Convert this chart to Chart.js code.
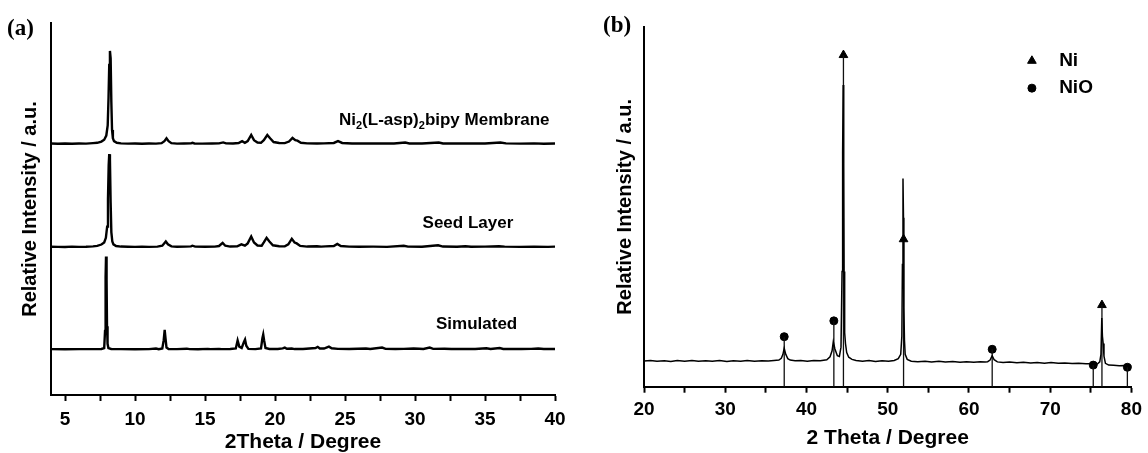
<!DOCTYPE html>
<html>
<head>
<meta charset="utf-8">
<script src="https://cdn.jsdelivr.net/npm/chart.js@4.4.1/dist/chart.umd.min.js"></script>
<style>
  html, body { margin: 0; padding: 0; background: #fff; }
  #wrap { position: relative; width: 1148px; height: 453px; overflow: hidden; }
  canvas { position: absolute; top: 0; }
  #chartA { left: 0; }
  #chartB { left: 580px; }
</style>
</head>
<body>
<div id="wrap">
  <canvas id="chartA" width="580" height="453"></canvas>
  <canvas id="chartB" width="568" height="453"></canvas>
</div>
<script>
// ---------- panel (a): [2theta, relative intensity %] ----------
const membrane = [
  [4.0,0.4],[4.5,0.2],[5.0,0.5],[5.5,0.1],[6.0,0.4],[6.5,0.3],[7.0,0.8],[7.3,1.2],[7.6,2.5],[7.8,4.5],
  [7.95,9],[8.05,20],[8.11,50],[8.16,85],[8.21,100],[8.26,92],[8.31,45],[8.36,15],[8.42,6],[8.5,3],
  [8.7,1.2],[9.0,0.6],[9.5,0.3],[10.0,0.5],[10.5,0.2],[11.0,0.4],[11.5,0.3],[11.9,0.8],[12.1,3],[12.25,6],
  [12.4,3],[12.6,0.8],[13.0,0.3],[13.5,0.5],[14.0,0.6],[14.1,1.2],[14.25,0.5],[14.8,0.3],[15.5,0.4],[16.0,0.6],
  [16.3,1.6],[16.5,0.6],[17.0,0.5],[17.4,1],[17.65,3],[17.85,1.2],[18.05,3],[18.3,9.6],[18.5,4],[18.75,1.5],
  [19.0,1.2],[19.2,4],[19.45,9.6],[19.65,6],[19.9,2],[20.3,1],[20.7,0.8],[21.0,2.5],[21.25,6.4],[21.45,4],
  [21.6,3.5],[21.85,1.2],[22.3,0.6],[23.0,0.5],[23.5,0.6],[24.2,1],[24.5,3],[24.8,1],[25.5,0.5],[26.5,0.4],
  [27.5,0.6],[28.5,0.4],[29.3,1.5],[29.6,0.5],[30.5,0.4],[31.7,1.5],[32.0,0.5],[33.0,0.4],[34.0,0.5],[35.0,0.4],
  [36.1,1.5],[36.5,0.6],[37.5,0.3],[38.5,0.6],[39.2,0.2],[40.0,0.5]
];
const seed = [
  [4.0,0.4],[4.5,0.3],[5.0,0.2],[5.5,0.5],[6.0,0.3],[6.5,0.4],[7.0,0.8],[7.3,1.3],[7.6,2.8],[7.8,5],
  [7.92,10],[8.01,22],[8.07,52],[8.12,88],[8.16,100],[8.21,94],[8.26,48],[8.31,16],[8.38,6],[8.46,3],
  [8.65,1.2],[9.0,0.6],[9.5,0.4],[10.0,0.3],[10.5,0.5],[11.0,0.3],[11.6,0.5],[11.95,1.5],[12.2,6],[12.35,3],
  [12.6,0.8],[13.0,0.4],[13.6,0.5],[14.0,0.8],[14.1,1.5],[14.3,0.5],[15.0,0.4],[15.7,0.5],[16.0,1.2],[16.26,4.6],
  [16.45,1.5],[16.8,0.6],[17.3,0.8],[17.6,3],[17.85,1.5],[18.05,4],[18.3,11.5],[18.5,5],[18.75,1.8],[19.05,1.5],
  [19.2,5],[19.4,10],[19.6,6],[19.85,2],[20.3,1],[20.7,0.8],[20.95,3],[21.2,9],[21.4,5],[21.55,4],
  [21.8,1.3],[22.3,0.6],[23.0,1],[23.3,0.5],[23.6,0.8],[24.2,1.2],[24.45,3.5],[24.7,1.2],[25.3,0.5],[26.0,0.4],
  [27.0,0.5],[28.0,0.3],[29.2,1.5],[29.5,0.5],[30.5,0.4],[31.65,2],[32.0,0.6],[33.0,0.4],[33.6,1],[34.0,0.4],
  [35.0,0.5],[36.0,1],[36.4,0.5],[37.5,0.3],[38.5,0.5],[39.5,0.3],[40.0,0.5]
];
const simulated = [
  [4.0,0.3],[5.0,0.2],[6.0,0.3],[7.0,0.3],[7.6,0.5],[7.8,1.5],[7.86,20],[7.9,78],[7.93,100],[7.97,75],
  [8.0,25],[8.04,6],[8.1,1.5],[8.3,0.5],[9.0,0.3],[10.0,0.2],[11.0,0.3],[11.5,1],[11.7,0.3],[11.95,1],
  [12.05,10],[12.12,21],[12.18,12],[12.25,2],[12.4,0.5],[13.0,0.3],[13.7,0.8],[13.9,0.3],[14.5,0.2],[15.2,0.6],
  [15.4,0.3],[16.0,0.6],[16.2,0.3],[16.8,0.4],[17.2,1],[17.33,9.6],[17.45,3],[17.62,1.5],[17.78,8],[17.86,10.6],
  [17.95,4],[18.1,0.6],[18.6,0.3],[19.0,1],[19.1,12],[19.16,16],[19.22,10],[19.32,1.5],[19.6,0.5],[20.2,0.4],
  [20.55,1.2],[20.7,2],[20.85,0.8],[21.2,1],[21.4,0.4],[22.0,0.4],[22.9,1.5],[23.05,2.8],[23.2,1],[23.5,1],
  [23.85,3],[24.05,1.2],[24.5,0.6],[25.3,0.4],[26.5,1],[26.8,0.5],[27.65,2],[27.9,0.6],[28.6,0.4],[29.2,0.6],
  [29.9,1],[30.3,0.8],[30.6,0.5],[31.05,2],[31.3,0.6],[32.1,0.8],[32.6,0.4],[33.5,0.5],[34.3,0.4],[35.1,1.2],
  [35.4,0.5],[36.05,1.5],[36.3,0.5],[37.0,0.6],[37.6,0.4],[38.3,0.6],[38.8,1],[39.2,0.4],[40.0,0.4]
];
// vertical stacking offsets of the three patterns
const offsetMembrane = 270;
const offsetSeed = 159;
const offsetSimulated = 49;

const ticksA = [5, 7.5, 10, 12.5, 15, 17.5, 20, 22.5, 25, 27.5, 30, 32.5, 35, 37.5, 40];
const majorA = [5, 10, 15, 20, 25, 30, 35, 40];

// labels of the patterns, placed in data coordinates
const seriesNames = ['Membrane', 'Seed Layer', 'Simulated'];
const labelX = [24.57, 30.54, 31.5];
const labelY = [295.7, 185, 76.3];

// ---------- panel (b) ----------
const pattern = [
  [20.0,7.15],[20.8,7.3],[21.6,7.05],[22.5,7.2],[23.3,7.0],[24.1,7.25],[25.0,7.1],[25.9,7.3],[26.7,7.05],[27.6,7.2],
  [28.4,7.1],[29.3,7.3],[30.2,7.0],[31.0,7.2],[31.9,7.1],[32.7,7.3],[33.6,7.05],[34.5,7.2],[35.3,7.15],[36.0,7.3],
  [36.6,7.4],[36.9,7.9],[37.1,9],[37.26,10.7],[37.45,9],[37.7,7.8],[38.0,7.4],[38.6,7.2],[39.3,7.3],[40.1,7.1],
  [40.9,7.3],[41.7,7.2],[42.5,7.5],[42.9,8.3],[43.15,10],[43.3,12.5],[43.5,10.5],[43.8,8.6],[44.05,8.4],[44.25,11],
  [44.38,32],[44.45,65],[44.52,83.9],[44.58,62],[44.63,32],[44.7,15],[44.8,12],[44.95,9.5],[45.2,8.2],[45.6,7.6],
  [46.1,7.3],[46.9,7.1],[47.7,7.25],[48.5,7.0],[49.3,7.2],[50.1,7.05],[50.8,7.3],[51.3,7.8],[51.6,9],[51.74,14],
  [51.81,34],[51.88,57.9],[51.94,47],[51.99,22],[52.06,13],[52.15,9],[52.4,7.6],[52.9,7.1],[53.7,6.95],[54.6,7.1],
  [55.4,6.9],[56.3,7.05],[57.1,6.85],[58.0,7.0],[58.9,6.8],[59.7,6.95],[60.6,6.8],[61.4,6.95],[62.0,6.9],[62.3,6.95],
  [62.6,7.4],[62.86,8.6],[63.1,7.5],[63.5,6.9],[64.2,6.75],[65.0,6.85],[65.9,6.65],[66.7,6.8],[67.6,6.6],[68.4,6.75],
  [69.3,6.55],[70.1,6.7],[71.0,6.5],[71.8,6.6],[72.7,6.45],[73.5,6.55],[74.4,6.35],[75.2,6.4],[75.8,6.3],[76.1,6.9],
  [76.25,9],[76.35,19.1],[76.43,14],[76.52,12],[76.62,8.5],[76.8,6.5],[77.2,6.0],[77.8,5.95],[78.5,5.8],[79.2,5.9],
  [80.0,5.75]
];
// reference positions (marker heights in the same units)
const niTheta = [44.55, 51.95, 76.37];
const niHeight = [92.2, 41.0, 22.7];
const nioTheta = [37.26, 43.37, 62.86, 75.3, 79.5];
const nioHeight = [13.9, 18.3, 10.4, 6.0, 5.4];

const ticksB = [20, 25, 30, 35, 40, 45, 50, 55, 60, 65, 70, 75, 80];
const majorB = [20, 30, 40, 50, 60, 70, 80];

const legendNames = ['Ni', 'NiO'];
const legendX = 67.75;
const legendTextX = 71.1;
const legendY = [90.6, 83.0];

// ---------- common ----------
Chart.defaults.font.family = '"Liberation Sans", Arial, sans-serif';
Chart.defaults.color = '#000';

const toPoints = (arr, off) => arr.map(([x, y]) => ({ x: x, y: y + off }));

function sticks(xs, hs) {
  const out = [];
  xs.forEach((x, i) => {
    out.push({ x: x, y: 0 }, { x: x, y: hs[i] }, { x: x, y: null });
  });
  return out;
}

function xAxis(min, max, tickList, majors, height, pad, title) {
  return {
    type: 'linear',
    min: min,
    max: max,
    afterBuildTicks: s => { s.ticks = tickList.map(v => ({ value: v })); },
    afterFit: s => { s.height = height; },
    ticks: {
      autoSkip: false,
      maxRotation: 0,
      padding: pad,
      font: { size: 19, weight: 'bold' },
      callback: v => (majors.includes(v) ? String(v) : '')
    },
    grid: { drawOnChartArea: false, drawTicks: true, tickLength: 6, tickColor: '#000', tickWidth: 2 },
    border: { display: true, color: '#000', width: 2 },
    title: { display: true, text: title, font: { size: 21, weight: 'bold', lineHeight: 1 }, padding: 0 }
  };
}

function yAxis(max, width, titlePad) {
  return {
    min: 0,
    max: max,
    afterFit: s => { s.width = width; },
    ticks: { display: false },
    grid: { display: false },
    border: { display: true, color: '#000', width: 2 },
    title: {
      display: true,
      text: 'Relative Intensity / a.u.',
      font: { size: 20, weight: 'bold', lineHeight: 1 },
      padding: { top: titlePad, bottom: 0 }
    }
  };
}

function panelLetter(text, x, y) {
  return {
    id: 'letter' + text,
    afterDraw(chart) {
      const ctx = chart.ctx;
      ctx.save();
      ctx.font = 'bold 23px "Liberation Serif", "Times New Roman", serif';
      ctx.fillStyle = '#000';
      ctx.textBaseline = 'middle';
      ctx.fillText(text, x, y);
      ctx.restore();
    }
  };
}

// text labels of panel (a), with subscripts for the membrane formula
const labelPlugin = {
  id: 'seriesLabels',
  afterDatasetsDraw(chart) {
    const { ctx, scales } = chart;
    const parts = [
      [['Ni', 0], ['2', 1], ['(L-asp)', 0], ['2', 1], ['bipy Membrane', 0]],
      [[seriesNames[1], 0]],
      [[seriesNames[2], 0]]
    ];
    ctx.save();
    ctx.fillStyle = '#000';
    ctx.textBaseline = 'middle';
    parts.forEach((segs, i) => {
      let x = scales.x.getPixelForValue(labelX[i]);
      const y = scales.y.getPixelForValue(labelY[i]);
      segs.forEach(([t, sub]) => {
        ctx.font = sub ? 'bold 11px "Liberation Sans", Arial' : 'bold 17px "Liberation Sans", Arial';
        ctx.fillText(t, x, sub ? y + 6 : y);
        x += ctx.measureText(t).width;
      });
    });
    ctx.restore();
  }
};

const legendPlugin = {
  id: 'markerLegend',
  afterDraw(chart) {
    const { ctx, scales } = chart;
    const styles = ['triangle', 'circle'];
    const sizes = [5, 4];
    ctx.save();
    ctx.fillStyle = '#000';
    ctx.strokeStyle = '#000';
    ctx.textBaseline = 'middle';
    ctx.font = 'bold 19px "Liberation Sans", Arial';
    legendNames.forEach((name, i) => {
      const px = scales.x.getPixelForValue(legendX);
      const py = scales.y.getPixelForValue(legendY[i]);
      Chart.helpers.drawPoint(ctx, { pointStyle: styles[i], radius: sizes[i], rotation: 0, borderWidth: 1 }, px, py);
      ctx.fillText(name, scales.x.getPixelForValue(legendTextX), py);
    });
    ctx.restore();
  }
};

// ---------- chart (a) ----------
const lineStyle = { borderColor: '#000', borderWidth: 2.4, pointRadius: 0, tension: 0, fill: false };

new Chart(document.getElementById('chartA').getContext('2d'), {
  type: 'line',
  data: {
    datasets: [
      Object.assign({ label: 'Ni2(L-asp)2bipy Membrane', data: toPoints(membrane, offsetMembrane) }, lineStyle),
      Object.assign({ label: 'Seed Layer', data: toPoints(seed, offsetSeed) }, lineStyle),
      Object.assign({ label: 'Simulated', data: toPoints(simulated, offsetSimulated) }, lineStyle)
    ]
  },
  options: {
    responsive: false,
    animation: false,
    devicePixelRatio: 1,
    layout: { padding: { left: 0, right: 25, top: 23, bottom: 0 } },
    plugins: { legend: { display: false }, tooltip: { enabled: false } },
    scales: {
      x: xAxis(4, 40, ticksA, majorA, 58, 7, '2Theta / Degree'),
      y: yAxis(400, 51, 20)
    }
  },
  plugins: [labelPlugin, panelLetter('(a)', 7, 29)]
});

// ---------- chart (b) ----------
new Chart(document.getElementById('chartB').getContext('2d'), {
  type: 'line',
  data: {
    datasets: [
      { label: 'pattern', data: toPoints(pattern, 0), borderColor: '#000', borderWidth: 1.5, pointRadius: 0, tension: 0 },
      { label: 'sticks', data: sticks(niTheta.concat(nioTheta), niHeight.concat(nioHeight)), borderColor: '#111',
        borderWidth: 1.3, pointRadius: 0, spanGaps: false },
      { label: 'Ni', data: niTheta.map((x, i) => ({ x: x, y: niHeight[i] })), showLine: false,
        pointStyle: 'triangle', pointRadius: 5, backgroundColor: '#000', borderColor: '#000', borderWidth: 1 },
      { label: 'NiO', data: nioTheta.map((x, i) => ({ x: x, y: nioHeight[i] })), showLine: false,
        pointStyle: 'circle', pointRadius: 4, backgroundColor: '#000', borderColor: '#000', borderWidth: 1 }
    ]
  },
  options: {
    responsive: false,
    animation: false,
    devicePixelRatio: 1,
    clip: false,
    layout: { padding: { left: 0, right: 16, top: 27, bottom: 4.5 } },
    plugins: { legend: { display: false }, tooltip: { enabled: false } },
    scales: {
      x: xAxis(20, 80, ticksB, majorB, 61.8, 6, '2 Theta / Degree'),
      y: yAxis(100, 64, 35)
    }
  },
  plugins: [legendPlugin, panelLetter('(b)', 23, 26)]
});
</script>
</body>
</html>
